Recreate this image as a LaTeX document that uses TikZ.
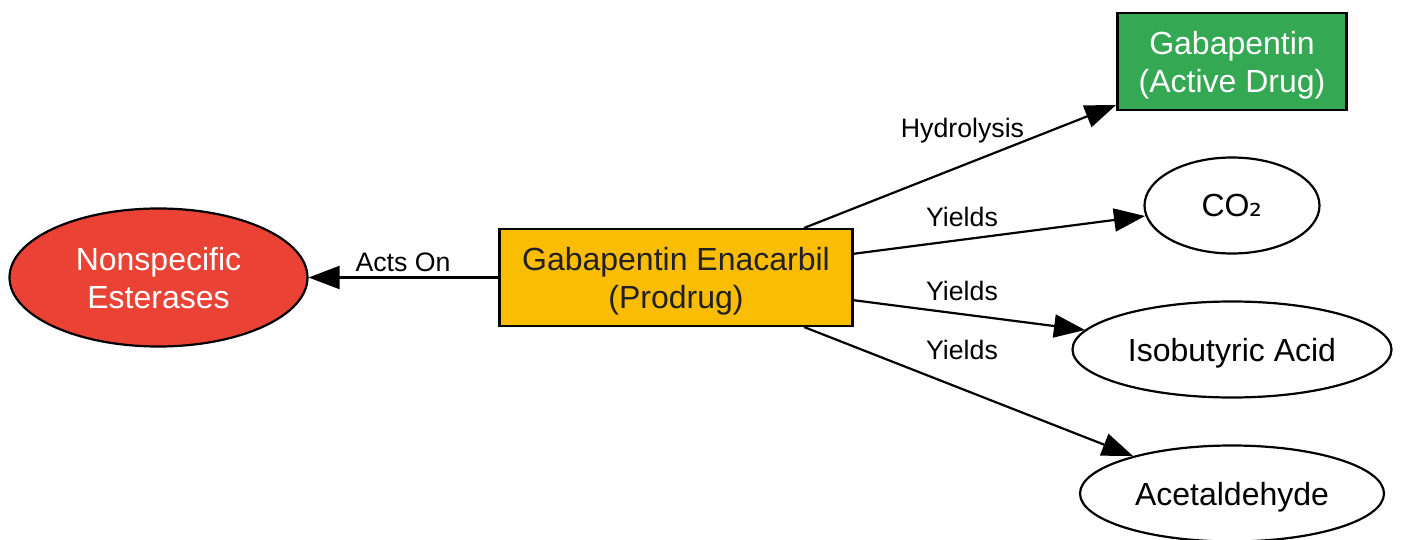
\documentclass[tikz,border=0pt]{standalone}
\usepackage{fontspec}
\setmainfont{Liberation Sans}
\usetikzlibrary{shapes.geometric,arrows.meta}
\newfontfamily\dejavu{DejaVu Sans}
\definecolor{amberfill}{RGB}{251,188,4}
\definecolor{redfill}{RGB}{234,67,53}
\definecolor{greenfill}{RGB}{52,168,83}
\definecolor{darktext}{RGB}{32,33,36}
\begin{document}
\begin{tikzpicture}[x=1pt,y=-1pt,
  lbl/.style={font=\fontsize{32}{38}\selectfont,align=center,inner sep=0pt},
  one/.style={text height=23pt,text depth=0pt},
  box/.style={draw=black,line width=2.2pt,rectangle,inner sep=0pt},
  oval/.style={draw=black,line width=2.2pt,ellipse,inner sep=0pt},
  elbl/.style={font=\fontsize{26.7}{30}\selectfont,inner sep=0pt},
  conn/.style={draw=black,line width=2.2pt,-{Triangle[length=31pt,width=23pt]}}]
\useasboundingbox (0,0) rectangle (1401,540);
\node[box,minimum width=353pt,minimum height=97pt,fill=amberfill,lbl,text=darktext] (pro) at (676,277.5) {\rule{0pt}{30pt}Gabapentin Enacarbil\\(Prodrug)};
\node[oval,minimum width=298pt,minimum height=138pt,fill=redfill,lbl,text=white] (est) at (158.5,277.5) {\rule{0pt}{25pt}Nonspecific\\Esterases};
\node[box,minimum width=229pt,minimum height=97pt,fill=greenfill,lbl,text=white] (gab) at (1232,61.5) {\rule{0pt}{31pt}Gabapentin\\(Active Drug)};
\node[oval,minimum width=175pt,minimum height=96pt,fill=white,lbl,one] (co) at (1232,205.5) {CO{\dejavu ₂}};
\node[oval,minimum width=319pt,minimum height=96pt,fill=white,lbl,one] (iso) at (1232,349.5) {Isobutyric Acid};
\node[oval,minimum width=304pt,minimum height=96pt,fill=white,lbl,one] (ace) at (1232,493.5) {Acetaldehyde};
\coordinate (p1) at (804,228);
\coordinate (p2) at (852,254);
\coordinate (p3) at (852,300);
\coordinate (p4) at (804,327);
\coordinate (pL) at (499,277.5);
\coordinate (t1) at (1116,105);
\coordinate (t2) at (1145,216);
\coordinate (t3) at (1085,330);
\coordinate (t4) at (1133,456);
\draw[conn] (pL) -- (est.east);
\draw[conn] (p1) -- (t1);
\draw[conn] (p2) -- (t2);
\draw[conn] (p3) -- (t3);
\draw[conn] (p4) -- (t4);
\node[elbl] (l1) at (403,262) {Acts On};
\node[elbl] (l2) at (962.5,131) {Hydrolysis};
\node[elbl] (l3) at (962,217) {Yields};
\node[elbl] (l4) at (962,291) {Yields};
\node[elbl] (l5) at (962,350) {Yields};
\end{tikzpicture}
\end{document}
